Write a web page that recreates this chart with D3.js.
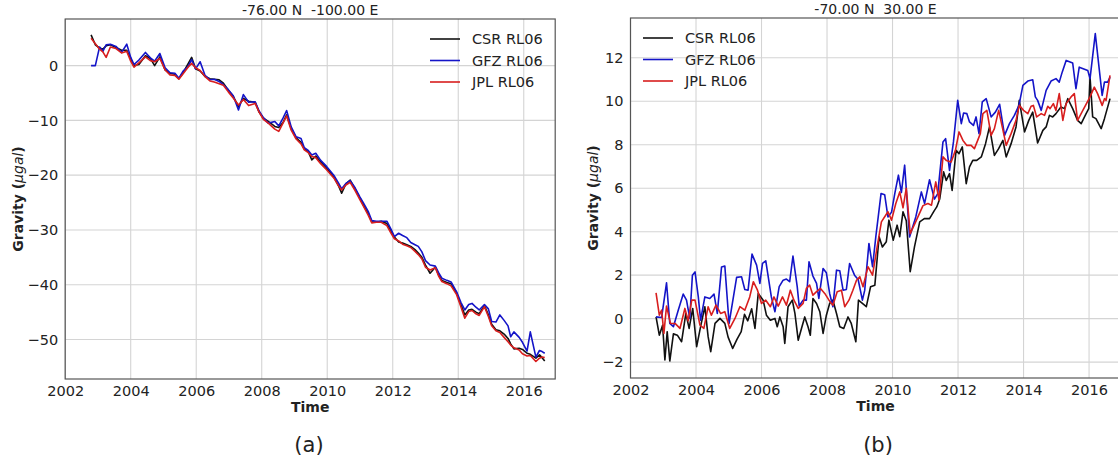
<!DOCTYPE html>
<html>
<head>
<meta charset="utf-8">
<script src="https://cdn.jsdelivr.net/npm/d3@7"></script>
<style>
  body { margin: 0; background: #fff; }
  text { font-family: "DejaVu Sans", sans-serif; fill: #222; }
</style>
</head>
<body>
<svg id="chart" width="1118" height="465"></svg>
<script>
// Panel (a): -76 N, -100 E  (shared monthly-ish times)
var timesA = [2002.79, 2002.92, 2003.05, 2003.15, 2003.25, 2003.38, 2003.55, 2003.72, 2003.88, 2004.0,
  2004.1, 2004.25, 2004.45, 2004.6, 2004.73, 2004.89, 2005.05, 2005.2, 2005.35, 2005.47,
  2005.6, 2005.75, 2005.86, 2005.98, 2006.12, 2006.27, 2006.42, 2006.55, 2006.7, 2006.83,
  2006.98, 2007.13, 2007.29, 2007.44, 2007.6, 2007.8, 2007.92, 2008.05, 2008.2, 2008.4,
  2008.52, 2008.65, 2008.76, 2008.9, 2009.05, 2009.2, 2009.3, 2009.42, 2009.53, 2009.65,
  2009.8, 2009.98, 2010.2, 2010.35, 2010.44, 2010.57, 2010.7, 2010.85, 2011.0, 2011.1,
  2011.25, 2011.36, 2011.5, 2011.65, 2011.82, 2011.95, 2012.05, 2012.18, 2012.3, 2012.43,
  2012.55, 2012.68, 2012.78, 2012.89, 2013.0, 2013.14, 2013.3, 2013.4, 2013.5, 2013.65,
  2013.78, 2013.95, 2014.08, 2014.2, 2014.32, 2014.42, 2014.54, 2014.64, 2014.8, 2014.92,
  2015.02, 2015.15, 2015.27, 2015.4, 2015.52, 2015.6, 2015.7, 2015.86, 2015.96, 2016.1,
  2016.2, 2016.37, 2016.48, 2016.56, 2016.64];
var csrA = [5.6, 3.8, 3.2, 3.0, 3.6, 3.8, 3.3, 2.8, 2.8, 1.2,
  0.0, 0.2, 1.8, 1.3, 0.0, 1.6, -0.8, -1.4, -1.6, -2.4,
  -1.3, 0.3, 1.5, -0.6, -1.0, -2.0, -2.4, -2.5, -2.6, -3.2,
  -4.5, -5.6, -7.5, -6.0, -6.5, -6.7, -8.5, -9.6, -10.2, -11.1,
  -11.3, -10.4, -9.0, -11.5, -13.2, -14.0, -15.2, -15.7, -17.2, -16.5,
  -17.6, -18.7, -20.3, -22.0, -23.3, -21.6, -20.9, -22.5, -24.2, -25.4,
  -27.0, -28.5, -28.6, -28.4, -28.8, -30.3, -31.3, -32.2, -32.4, -32.7,
  -33.0, -33.6, -34.2, -35.0, -36.4, -37.9, -36.8, -38.2, -39.2, -39.6,
  -39.8, -41.5, -43.6, -45.5, -44.6, -44.5, -45.0, -45.3, -43.8, -45.5,
  -47.2, -48.2, -48.4, -49.0, -49.8, -50.8, -51.7, -51.6, -51.8, -52.5,
  -52.7, -53.4, -52.8, -53.3, -53.9];
var gfzA = [0.0, 0.0, 3.4, 2.6, 3.8, 3.9, 3.5, 2.4, 3.9, 1.5,
  0.2, 1.0, 2.4, 1.4, 0.8, 2.2, -0.4, -1.3, -1.4, -2.3,
  -1.0, -0.2, 1.1, -0.6, 0.7, -1.8, -2.6, -2.5, -2.9, -3.5,
  -4.4, -5.5, -8.1, -5.3, -6.7, -6.6, -8.3, -9.5, -10.5, -10.2,
  -11.0, -9.6, -8.2, -11.2, -13.0, -13.3, -15.0, -15.5, -16.3, -16.0,
  -17.3, -18.4, -20.0, -21.5, -22.5, -21.5, -21.0, -22.3, -24.0, -25.0,
  -26.6, -28.3, -28.4, -28.4, -28.4, -29.9, -31.2, -30.6, -31.0, -31.4,
  -32.3, -32.7, -33.0, -34.0, -35.6, -36.4, -36.6, -37.8, -38.8, -39.2,
  -39.5, -41.3, -43.2, -44.6, -43.6, -43.4, -44.1, -44.6, -43.6, -44.4,
  -46.7, -46.8, -45.5, -46.5, -47.5, -49.5, -48.6, -49.6, -50.5, -52.1,
  -48.6, -53.2, -52.0, -52.2, -52.5];
var jplA = [5.0, 4.0, 3.0, 2.5, 1.5, 3.4, 3.1, 2.3, 2.6, 0.8,
  -0.3, 0.5, 1.6, 0.9, 0.7, 1.3, -0.8, -1.7, -1.8, -2.5,
  -1.5, -0.3, 0.4, -0.4, -0.9, -2.0, -2.8, -3.0, -3.3, -3.6,
  -4.8, -5.9, -7.2, -6.2, -7.3, -6.9, -8.5, -9.8, -10.5, -11.6,
  -12.0, -10.5, -9.2, -11.8, -13.4, -14.3, -15.4, -15.9, -16.6, -16.8,
  -17.9, -19.0, -20.5, -22.0, -22.7, -21.8, -21.3, -22.8, -24.5, -25.6,
  -27.3, -28.7, -28.6, -28.6, -29.2, -30.6, -31.6, -32.0, -32.6, -32.9,
  -33.2, -33.9, -34.5, -35.3, -36.8, -37.3, -36.9, -38.4, -39.4, -39.8,
  -40.2, -41.8, -44.0, -46.1, -44.9, -44.7, -45.3, -45.6, -44.0, -45.8,
  -47.5, -48.4, -48.7, -49.6, -50.4, -51.0, -51.5, -51.9, -52.6, -53.0,
  -52.9, -54.0, -53.4, -53.2, -53.3];

// Panel (b): -70 N, 30 E  ([time, value] per series)
var csrB = [[2002.78,0.08],[2002.88,-0.76],[2002.98,-0.3],[2003.05,-1.9],[2003.12,-0.6],[2003.2,-1.95],
  [2003.31,-0.7],[2003.43,-0.76],[2003.56,-1.06],[2003.69,0.24],[2003.79,-0.45],[2003.9,0.47],
  [2004.02,-1.29],[2004.14,-0.37],[2004.27,0.55],[2004.37,-0.83],[2004.45,-1.52],[2004.58,-0.22],
  [2004.73,0.01],[2004.88,-0.22],[2004.98,-0.85],[2005.12,-1.37],[2005.25,-0.95],[2005.38,-0.6],
  [2005.48,0.2],[2005.58,-0.1],[2005.7,0.45],[2005.8,-0.45],[2005.9,1.16],[2006.05,0.85],
  [2006.15,0.16],[2006.27,-0.07],[2006.41,0.01],[2006.48,-0.37],[2006.56,0.08],[2006.66,-0.37],
  [2006.71,-1.14],[2006.81,0.55],[2006.94,0.85],[2007.02,0.24],[2007.12,-0.99],[2007.22,-0.45],
  [2007.32,0.08],[2007.42,-0.37],[2007.49,-0.76],[2007.57,0.93],[2007.68,0.7],[2007.78,0.32],
  [2007.88,-0.68],[2007.98,0.16],[2008.08,0.7],[2008.18,0.85],[2008.29,0.24],[2008.39,-0.37],
  [2008.51,-0.45],[2008.64,0.08],[2008.74,-0.22],[2008.88,-1.06],[2008.96,0.85],[2009.08,0.7],
  [2009.2,0.55],[2009.33,1.47],[2009.46,1.54],[2009.59,3.77],[2009.69,3.3],[2009.81,3.54],
  [2009.89,4.53],[2010.02,3.61],[2010.14,4.3],[2010.22,3.77],[2010.32,4.92],[2010.42,4.5],
  [2010.54,2.16],[2010.67,3.3],[2010.83,4.45],[2010.98,4.61],[2011.13,4.6],[2011.28,4.98],
  [2011.35,5.14],[2011.44,5.5],[2011.56,6.75],[2011.64,6.36],[2011.74,6.67],[2011.82,5.9],
  [2011.94,7.74],[2012.03,7.59],[2012.13,7.9],[2012.25,6.21],[2012.35,6.98],[2012.45,7.28],
  [2012.57,7.28],[2012.71,7.44],[2012.84,8.05],[2012.96,8.82],[2013.11,7.51],[2013.24,7.82],
  [2013.37,8.2],[2013.47,7.44],[2013.62,8.05],[2013.77,8.82],[2013.87,10.04],[2014.03,8.59],
  [2014.16,9.12],[2014.28,9.5],[2014.43,8.08],[2014.59,8.66],[2014.69,8.82],[2014.79,9.35],
  [2014.89,9.28],[2014.99,9.43],[2015.14,9.74],[2015.25,9.66],[2015.35,10.12],[2015.5,9.66],
  [2015.65,9.12],[2015.76,8.97],[2015.91,9.43],[2015.99,9.66],[2016.03,11.11],[2016.11,9.28],
  [2016.21,9.2],[2016.37,8.74],[2016.47,9.2],[2016.64,10.12]];
var gfzB = [[2002.78,0.08],[2002.95,0.05],[2003.1,1.65],[2003.2,-0.22],[2003.31,-0.37],[2003.46,0.4],
  [2003.61,1.13],[2003.71,0.85],[2003.81,0.01],[2003.89,2.0],[2003.97,2.15],[2004.07,1.0],
  [2004.14,-0.07],[2004.27,1.0],[2004.42,0.93],[2004.55,1.13],[2004.65,0.24],[2004.78,2.38],
  [2004.88,2.42],[2005.01,-0.22],[2005.24,1.9],[2005.39,1.93],[2005.49,1.34],[2005.59,1.31],
  [2005.71,2.97],[2005.85,2.46],[2005.95,1.62],[2006.03,2.54],[2006.13,2.66],[2006.3,1.0],
  [2006.41,0.32],[2006.54,1.47],[2006.66,1.77],[2006.76,1.82],[2006.86,1.7],[2006.96,2.88],
  [2007.09,1.47],[2007.15,0.58],[2007.27,0.85],[2007.37,0.85],[2007.45,2.62],[2007.57,1.96],
  [2007.68,1.62],[2007.75,0.93],[2007.88,2.31],[2007.98,2.11],[2008.08,1.16],[2008.18,0.55],
  [2008.29,2.23],[2008.39,2.2],[2008.49,1.31],[2008.59,1.34],[2008.69,2.54],[2008.84,2.0],
  [2008.95,1.8],[2009.08,0.85],[2009.15,1.3],[2009.28,3.46],[2009.39,2.39],[2009.49,3.77],
  [2009.65,5.76],[2009.76,5.7],[2009.86,4.68],[2009.97,4.9],[2010.07,5.76],[2010.18,6.6],
  [2010.27,5.8],[2010.37,7.06],[2010.52,3.76],[2010.71,4.68],[2010.88,5.83],[2010.98,5.3],
  [2011.13,6.39],[2011.28,5.5],[2011.38,5.75],[2011.54,8.13],[2011.62,8.28],[2011.74,6.82],
  [2011.86,8.13],[2011.99,10.04],[2012.1,8.97],[2012.17,9.46],[2012.27,9.43],[2012.35,9.05],
  [2012.47,8.89],[2012.55,9.28],[2012.64,8.51],[2012.74,9.97],[2012.86,10.12],[2013.01,9.28],
  [2013.14,9.5],[2013.27,9.86],[2013.42,8.43],[2013.57,8.97],[2013.72,9.35],[2013.86,9.81],
  [2013.98,10.73],[2014.13,10.93],[2014.28,10.99],[2014.36,10.2],[2014.43,10.04],[2014.54,9.58],
  [2014.69,10.5],[2014.84,10.93],[2014.99,11.04],[2015.09,10.88],[2015.18,11.34],[2015.3,11.88],
  [2015.5,11.76],[2015.6,10.58],[2015.7,11.57],[2015.96,11.42],[2016.03,11.04],[2016.19,13.11],
  [2016.4,10.27],[2016.47,10.88],[2016.57,10.88],[2016.64,11.11]];
var jplB = [[2002.78,1.19],[2002.88,0.16],[2002.95,0.39],[2003.02,-0.68],[2003.1,0.58],[2003.22,-0.22],
  [2003.36,-0.22],[2003.51,-0.45],[2003.66,0.47],[2003.76,-0.1],[2003.87,0.85],[2003.97,0.85],
  [2004.12,-0.3],[2004.24,-0.45],[2004.37,0.55],[2004.47,0.16],[2004.61,0.62],[2004.75,0.24],
  [2004.88,0.32],[2005.03,-0.45],[2005.19,0.01],[2005.34,0.55],[2005.49,0.39],[2005.64,1.0],
  [2005.75,1.7],[2005.87,1.34],[2006.0,0.7],[2006.13,0.85],[2006.27,0.55],[2006.38,1.0],
  [2006.51,0.58],[2006.64,1.0],[2006.76,0.62],[2006.88,1.31],[2006.99,0.85],[2007.12,0.47],
  [2007.27,0.7],[2007.37,1.39],[2007.47,1.54],[2007.57,1.08],[2007.68,1.24],[2007.8,1.39],
  [2007.93,1.16],[2008.06,0.85],[2008.18,0.62],[2008.31,1.24],[2008.44,1.31],[2008.54,0.55],
  [2008.67,0.85],[2008.79,1.31],[2008.9,1.77],[2009.0,1.93],[2009.1,1.47],[2009.25,2.39],
  [2009.39,2.0],[2009.53,3.3],[2009.66,4.45],[2009.86,4.92],[2009.97,4.53],[2010.1,5.3],
  [2010.22,5.83],[2010.32,5.1],[2010.42,6.0],[2010.54,3.91],[2010.73,4.53],[2010.93,5.2],
  [2011.08,5.3],[2011.19,5.22],[2011.32,6.29],[2011.42,5.45],[2011.54,7.44],[2011.64,7.28],
  [2011.79,7.21],[2011.92,7.74],[2012.03,8.59],[2012.15,8.2],[2012.27,7.97],[2012.4,7.97],
  [2012.5,7.82],[2012.6,8.2],[2012.68,8.51],[2012.76,9.43],[2012.88,9.58],[2013.01,8.43],
  [2013.11,8.74],[2013.24,9.58],[2013.35,8.82],[2013.47,7.97],[2013.62,8.51],[2013.77,9.12],
  [2013.87,9.81],[2014.0,9.58],[2014.13,9.43],[2014.23,9.77],[2014.3,9.81],[2014.4,9.28],
  [2014.54,9.43],[2014.64,9.35],[2014.74,9.77],[2014.81,9.66],[2014.91,9.89],[2014.99,9.58],
  [2015.09,10.35],[2015.2,9.12],[2015.3,9.89],[2015.45,10.2],[2015.55,10.35],[2015.65,9.12],
  [2015.81,9.58],[2016.03,10.2],[2016.16,10.65],[2016.26,10.35],[2016.4,9.81],[2016.47,10.12],
  [2016.52,10.04],[2016.64,11.19]];

var seriesNames = ["CSR RL06", "GFZ RL06", "JPL RL06"];
var seriesColors = ["#111111", "#1414c8", "#d81e1e"];
var yearTicks = [2002, 2004, 2006, 2008, 2010, 2012, 2014, 2016];
var yTicksA = [-50, -40, -30, -20, -10, 0];
var yTicksB = [-2, 0, 2, 4, 6, 8, 10, 12];

var svg = d3.select("#chart");
svg.append("rect").attr("width", 1118).attr("height", 465).attr("fill", "#fff");

function panel(opt) {
    var x = d3.scaleLinear().domain([2002, 2016.96]).range([opt.left, opt.left + 490]),
        y = d3.scaleLinear().domain(opt.yDomain).range([opt.top + 360, opt.top]);
    var g = svg.append("g");

    // grid
    g.selectAll(".vgrid").data(yearTicks).enter().append("line")
        .attr("x1", x).attr("x2", x).attr("y1", y.range()[0]).attr("y2", y.range()[1])
        .attr("stroke", "#d4d4d4").attr("stroke-width", 1.1);
    g.selectAll(".hgrid").data(opt.yTicks).enter().append("line")
        .attr("x1", x.range()[0]).attr("x2", x.range()[1])
        .attr("y1", y).attr("y2", y)
        .attr("stroke", "#d4d4d4").attr("stroke-width", 1.1);

    // axes (labels only, matplotlib-ish)
    var xAxis = g.append("g").attr("transform", "translate(0," + y.range()[0] + ")")
        .call(d3.axisBottom(x).tickValues(yearTicks).tickFormat(d3.format("d")).tickSize(0).tickPadding(7));
    var yAxis = g.append("g").attr("transform", "translate(" + x.range()[0] + ",0)")
        .call(d3.axisLeft(y).tickValues(opt.yTicks).tickSize(0).tickPadding(7));
    [xAxis, yAxis].forEach(function (a) {
        a.select(".domain").remove();
        a.selectAll("text").attr("font-family", "DejaVu Sans").attr("font-size", 14.5).attr("fill", "#222");
    });

    // data lines
    var line = d3.line().x(function (d) { return x(d[0]); }).y(function (d) { return y(d[1]); });
    var clipId = "clip" + opt.key;
    svg.append("clipPath").attr("id", clipId).append("rect")
        .attr("x", x.range()[0]).attr("y", opt.top).attr("width", 490).attr("height", 360);
    g.append("g").attr("clip-path", "url(#" + clipId + ")")
        .selectAll("path").data(opt.series).enter().append("path")
        .attr("d", line).attr("fill", "none")
        .attr("stroke", function (d, i) { return seriesColors[i]; })
        .attr("stroke-width", 1.6).attr("stroke-linejoin", "round");

    // frame
    g.append("rect").attr("x", x.range()[0]).attr("y", opt.top)
        .attr("width", 490).attr("height", 360)
        .attr("fill", "none").attr("stroke", "#555").attr("stroke-width", 1.2);

    // title and labels
    var cx = x.range()[0] + 245;
    g.append("text").attr("x", cx).attr("y", opt.top - 4).attr("text-anchor", "middle")
        .style("white-space", "pre")
        .attr("font-size", 14).text(opt.title);
    g.append("text").attr("x", cx).attr("y", opt.top + 393).attr("text-anchor", "middle")
        .attr("font-size", 14).attr("font-weight", "bold").text("Time");
    var yl = g.append("text")
        .attr("transform", "translate(" + (x.range()[0] - opt.ylabelGap) + "," + (opt.top + 180) + ") rotate(-90)")
        .attr("text-anchor", "middle").attr("font-size", 14).attr("font-weight", "bold");
    yl.append("tspan").text("Gravity (");
    yl.append("tspan").attr("font-style", "italic").attr("font-weight", "normal").text("\u03bcgal");
    yl.append("tspan").text(")");
    g.append("text").attr("x", opt.capX).attr("y", 452).attr("text-anchor", "middle")
        .attr("font-family", "Open Sans, sans-serif").attr("font-size", 21).text(opt.caption);

    // legend
    var lg = g.append("g").attr("transform", "translate(" + opt.legendX + "," + opt.legendY + ")");
    seriesNames.forEach(function (name, i) {
        lg.append("line").attr("x1", 0).attr("x2", 30).attr("y1", i * 21.5).attr("y2", i * 21.5)
            .attr("stroke", seriesColors[i]).attr("stroke-width", 1.6);
        lg.append("text").attr("x", 42).attr("y", i * 21.5).attr("dy", "0.35em")
            .attr("font-size", 14.5).text(name);
    });
}

panel({
    key: "a", left: 65.2, top: 19, yDomain: [-57.2, 8.5], yTicks: yTicksA,
    title: "-76.00 N  -100.00 E", caption: "(a)", capX: 309, ylabelGap: 42,
    legendX: 430, legendY: 39,
    series: [timesA.map(function (t, i) { return [t, csrA[i]]; }),
             timesA.map(function (t, i) { return [t, gfzA[i]]; }),
             timesA.map(function (t, i) { return [t, jplA[i]]; })]
});

panel({
    key: "b", left: 630.5, top: 18, yDomain: [-2.73, 13.83], yTicks: yTicksB,
    title: "-70.00 N  30.00 E", caption: "(b)", capX: 878, ylabelGap: 33,
    legendX: 643, legendY: 38,
    series: [csrB, gfzB, jplB]
});
</script>
</body>
</html>
